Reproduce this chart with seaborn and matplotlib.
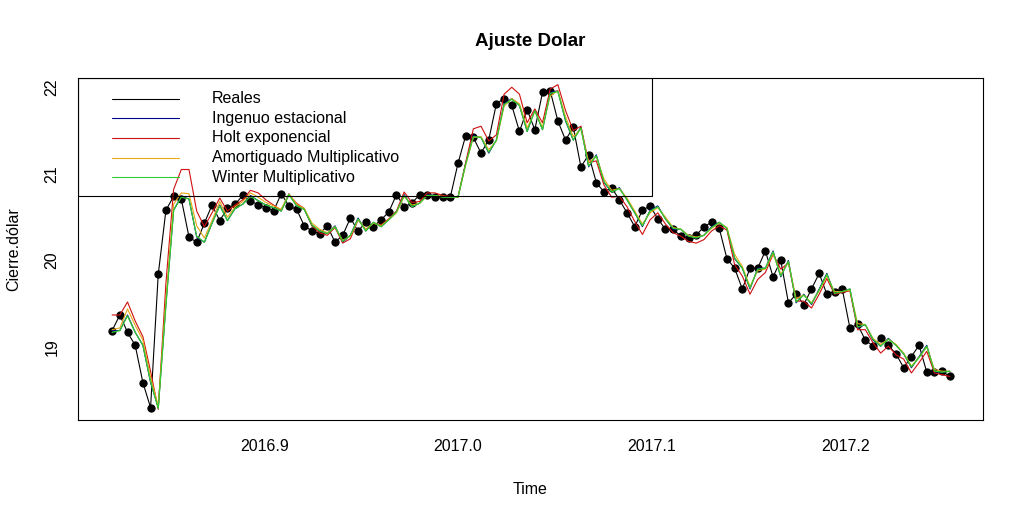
import numpy as np
import pandas as pd
import matplotlib
matplotlib.use("Agg")
import matplotlib.pyplot as plt
import seaborn as sns
from matplotlib.patches import Rectangle

# serie diaria (frecuencia 252), inicio en 2016 + 207/252
inicio = 2016 + 207 / 252
frecuencia = 252

reales = [19.19, 19.37, 19.17, 19.02, 18.59, 18.30, 19.84, 20.58, 20.74, 20.71,
          20.27, 20.21, 20.43, 20.64, 20.46, 20.60, 20.65, 20.75, 20.69, 20.64,
          20.61, 20.57, 20.77, 20.63, 20.59, 20.40, 20.34, 20.31, 20.40, 20.21,
          20.29, 20.49, 20.34, 20.44, 20.39, 20.47, 20.56, 20.76, 20.62, 20.66,
          20.76, 20.75, 20.73, 20.73, 20.73, 21.12, 21.44, 21.42, 21.24, 21.39,
          21.81, 21.87, 21.79, 21.49, 21.74, 21.51, 21.94, 21.96, 21.61, 21.39,
          21.54, 21.08, 21.22, 20.90, 20.79, 20.84, 20.70, 20.55, 20.39, 20.58,
          20.63, 20.48, 20.36, 20.36, 20.28, 20.26, 20.29, 20.39, 20.44, 20.37,
          20.02, 19.91, 19.67, 19.91, 19.91, 20.11, 19.81, 20.00, 19.51, 19.61,
          19.49, 19.67, 19.85, 19.61, 19.64, 19.67, 19.22, 19.26, 19.08, 19.01,
          19.10, 19.02, 18.92, 18.76, 18.89, 19.02, 18.71, 18.71, 18.72, 18.66]

ingenuo = [19.19, 19.19, 19.37, 19.17, 19.02, 18.59, 18.30, 19.50, 20.58, 20.74,
           20.71, 20.27, 20.21, 20.43, 20.64, 20.46, 20.60, 20.65, 20.75, 20.69,
           20.64, 20.61, 20.57, 20.77, 20.63, 20.59, 20.40, 20.34, 20.31, 20.40,
           20.21, 20.29, 20.49, 20.34, 20.44, 20.39, 20.47, 20.56, 20.76, 20.62,
           20.66, 20.76, 20.75, 20.73, 20.73, 20.73, 21.12, 21.44, 21.42, 21.24,
           21.39, 21.81, 21.87, 21.79, 21.49, 21.74, 21.51, 21.94, 21.96, 21.61,
           21.39, 21.54, 21.08, 21.22, 20.90, 20.79, 20.84, 20.70, 20.55, 20.39,
           20.58, 20.63, 20.48, 20.36, 20.36, 20.28, 20.26, 20.29, 20.39, 20.44,
           20.37, 20.02, 19.91, 19.67, 19.91, 19.91, 20.11, 19.81, 20.00, 19.51,
           19.61, 19.49, 19.67, 19.85, 19.61, 19.64, 19.67, 19.22, 19.26, 19.08,
           19.01, 19.10, 19.02, 18.92, 18.76, 18.89, 19.02, 18.71, 18.71, 18.72]

holt = [19.37, 19.37, 19.52, 19.30, 19.12, 18.72, 18.28, 19.74, 20.82, 21.05,
        21.05, 20.57, 20.39, 20.55, 20.72, 20.57, 20.64, 20.70, 20.81, 20.78,
        20.70, 20.64, 20.58, 20.76, 20.66, 20.60, 20.40, 20.32, 20.29, 20.38,
        20.20, 20.25, 20.47, 20.36, 20.43, 20.41, 20.48, 20.57, 20.79, 20.67,
        20.68, 20.78, 20.78, 20.75, 20.74, 20.73, 21.13, 21.52, 21.55, 21.38,
        21.45, 21.92, 22.00, 21.92, 21.59, 21.75, 21.59, 21.98, 22.03, 21.73,
        21.50, 21.55, 21.13, 21.15, 20.87, 20.73, 20.74, 20.62, 20.45, 20.30,
        20.47, 20.55, 20.42, 20.32, 20.28, 20.22, 20.20, 20.24, 20.34, 20.40,
        20.35, 19.95, 19.82, 19.61, 19.78, 19.86, 20.07, 19.90, 19.97, 19.53,
        19.53, 19.45, 19.61, 19.79, 19.61, 19.63, 19.65, 19.20, 19.20, 19.05,
        18.93, 19.01, 18.91, 18.86, 18.70, 18.82, 18.95, 18.70, 18.68, 18.66]

amortiguado = [19.20, 19.22, 19.44, 19.25, 19.08, 18.65, 18.32, 19.55, 20.65, 20.78,
               20.77, 20.40, 20.26, 20.46, 20.68, 20.50, 20.62, 20.68, 20.78, 20.73,
               20.67, 20.63, 20.59, 20.77, 20.65, 20.60, 20.43, 20.36, 20.32, 20.39,
               20.23, 20.28, 20.47, 20.36, 20.43, 20.40, 20.47, 20.55, 20.74, 20.64,
               20.66, 20.75, 20.75, 20.74, 20.73, 20.73, 21.10, 21.42, 21.43, 21.28,
               21.38, 21.78, 21.87, 21.81, 21.53, 21.72, 21.54, 21.90, 21.96, 21.66,
               21.43, 21.52, 21.13, 21.20, 20.94, 20.81, 20.83, 20.72, 20.57, 20.42,
               20.55, 20.61, 20.50, 20.38, 20.36, 20.29, 20.27, 20.29, 20.37, 20.43,
               20.38, 20.07, 19.93, 19.70, 19.88, 19.90, 20.08, 19.84, 19.98, 19.56,
               19.60, 19.51, 19.65, 19.82, 19.64, 19.64, 19.66, 19.27, 19.26, 19.10,
               19.03, 19.09, 19.03, 18.93, 18.78, 18.88, 19.00, 18.74, 18.72, 18.72]

winter = [19.17, 19.19, 19.36, 19.17, 19.02, 18.60, 18.29, 19.48, 20.58, 20.73,
          20.71, 20.28, 20.21, 20.43, 20.63, 20.46, 20.60, 20.65, 20.74, 20.69,
          20.64, 20.61, 20.57, 20.76, 20.63, 20.59, 20.41, 20.34, 20.31, 20.39,
          20.22, 20.29, 20.48, 20.34, 20.44, 20.39, 20.47, 20.56, 20.75, 20.62,
          20.66, 20.75, 20.75, 20.73, 20.73, 20.73, 21.11, 21.43, 21.42, 21.25,
          21.39, 21.80, 21.86, 21.79, 21.49, 21.73, 21.51, 21.93, 21.95, 21.62,
          21.39, 21.53, 21.09, 21.21, 20.91, 20.79, 20.83, 20.70, 20.55, 20.40,
          20.57, 20.62, 20.48, 20.37, 20.36, 20.28, 20.26, 20.29, 20.38, 20.44,
          20.37, 20.03, 19.91, 19.68, 19.90, 19.91, 20.10, 19.82, 19.99, 19.52,
          19.60, 19.50, 19.66, 19.84, 19.62, 19.64, 19.67, 19.23, 19.26, 19.09,
          19.01, 19.09, 19.02, 18.92, 18.77, 18.88, 19.01, 18.72, 18.71, 18.72]

nombres = ["Reales", "Ingenuo estacional", "Holt exponencial",
           "Amortiguado Multiplicativo", "Winter Multiplicativo"]
colores = ["black", "#00008B", "#D01010", "#E8A818", "#30CC30"]

tiempo = inicio + np.arange(len(reales)) / frecuencia
df = pd.DataFrame({"Time": tiempo, "Reales": reales, "Ingenuo": ingenuo,
                   "Holt": holt, "Amortiguado": amortiguado, "Winter": winter})

sns.set_style("white")
plt.rcParams["font.family"] = ["Liberation Sans", "DejaVu Sans"]
plt.rcParams["text.color"] = "black"

fig = plt.figure(figsize=(10.24, 5.18), dpi=100)
# caja del grafico en pixeles: x 78..983, y 78..420
ax = fig.add_axes([78 / 1024, 1 - 420 / 518, 905 / 1024, 342 / 518])

lw = 0.8
sns.lineplot(data=df, x="Time", y="Reales", color=colores[0], lw=lw,
             marker="o", markersize=5.2, markeredgecolor="black", ax=ax)
sns.lineplot(data=df, x="Time", y="Ingenuo", color=colores[1], lw=lw, ax=ax)
sns.lineplot(data=df, x="Time", y="Holt", color=colores[2], lw=lw, ax=ax)
sns.lineplot(data=df, x="Time", y="Amortiguado", color=colores[3], lw=lw, ax=ax)
sns.lineplot(data=df, x="Time", y="Winter", color=colores[4], lw=0.9, ax=ax)

ax.set_xlim(2016.8038, 2017.2711)
ax.set_ylim(18.157, 22.107)
ax.set_xticks([2016.9, 2017.0, 2017.1, 2017.2])
ax.set_xticklabels(["2016.9", "2017.0", "2017.1", "2017.2"])
ax.set_yticks([19, 20, 21, 22])
ax.set_yticklabels(["19", "20", "21", "22"], rotation=90, va="center")
ax.tick_params(axis="both", direction="out", length=6.5, width=0.8,
               color="black", labelsize=11.5, labelcolor="black")
ax.tick_params(axis="x", pad=7)
ax.tick_params(axis="y", pad=7)
for s in ax.spines.values():
    s.set_color("black")
    s.set_linewidth(0.8)
ax.set_xlabel("")
ax.set_ylabel("")

fig.text(530.5 / 1024, 1 - 41 / 518, "Ajuste Dolar", ha="center", va="center",
         fontsize=13.5, fontweight="bold", color="black")
fig.text(530.5 / 1024, 1 - 489 / 518, "Time", ha="center", va="center",
         fontsize=11.5, color="black")
fig.text(14 / 1024, 1 - 249 / 518, "Cierre.dólar", ha="center", va="center",
         rotation=90, fontsize=11.5, color="black")

# leyenda con caja a la manera de R
def px(x, y):
    return (x - 78) / 905, (420 - y) / 342

x0, y0 = px(78, 196)
x1, y1 = px(652, 78)
ax.add_patch(Rectangle((x0, y0), x1 - x0, y1 - y0, transform=ax.transAxes,
                       facecolor="none", edgecolor="black", lw=0.8, zorder=5))
filas = [98.5, 118.3, 137.8, 157.5, 177.3]
for nombre, color, fy in zip(nombres, colores, filas):
    lx0, ly = px(111.5, fy)
    lx1, _ = px(179, fy)
    ax.plot([lx0, lx1], [ly, ly], color=color, lw=lw, transform=ax.transAxes,
            zorder=6)
    tx, _ = px(212, fy)
    ax.text(tx, ly, nombre, transform=ax.transAxes, ha="left", va="center",
            fontsize=11.5, color="black", zorder=6)

fig.savefig("out.png", dpi=100)
